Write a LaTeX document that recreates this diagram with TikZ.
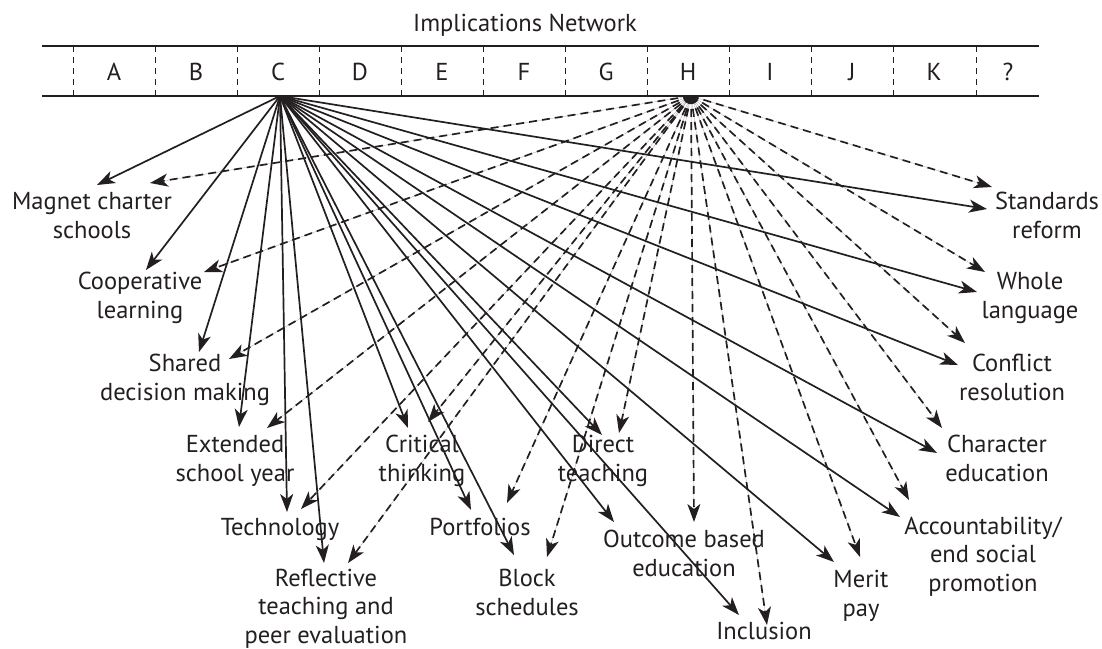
\documentclass[tikz,border=0pt]{standalone}
\usepackage{fontspec}
\setmainfont{PT Sans}
\usetikzlibrary{arrows.meta}
\definecolor{ink}{HTML}{231F20}
\begin{document}
\begin{tikzpicture}[x=1pt,y=-1pt,
  lbl/.style={font=\fontsize{24.5}{28.5}\selectfont, align=center, anchor=base, inner sep=0pt, text=ink},
  cell/.style={font=\fontsize{24.5}{28.5}\selectfont, anchor=base, inner sep=0pt, text=ink},
  barline/.style={line width=1.3pt, draw=ink},
  divider/.style={line width=1pt, draw=ink, dash pattern=on 6pt off 5pt},
  solidarr/.style={line width=1.7pt, draw=ink, fill=ink, -{Stealth[length=18pt,width=13pt,inset=5pt]}},
  dasharr/.style={solidarr, dash pattern=on 8pt off 5pt}]
\useasboundingbox (0,0) rectangle (1102,648);
% title
\node[cell] (title) at (525,31) {Implications Network};
% bar
\draw[barline] (42,46) -- (1039,46);
\draw[barline] (42,96) -- (1039,96);
\foreach \x in {73,155,237,319,401,483,565,647,729,811,893,976}
  \draw[divider] (\x,46) -- (\x,96);
\foreach \l/\x in {A/114,B/196,C/278,D/360,E/442,F/524,G/606,H/688,I/770,J/852,K/934}
  \node[cell] (c\l) at (\x,80) {\l};
\node[cell] (cQ) at (1008,80) {?};
\coordinate (srcC) at (280,96);
\coordinate (srcH) at (691,96);
% labels (anchor = baseline of the last line)
\node[lbl] (mag) at (92,238) {Magnet charter\\schools};
\node[lbl] (coop) at (140,318) {Cooperative\\learning};
\node[lbl] (shared) at (185,400) {Shared\\decision making};
\node[lbl] (ext) at (235,481) {Extended\\school year};
\node[lbl] (tech) at (280,535) {Technology};
\node[lbl] (refl) at (326,643) {Reflective\\teaching and\\peer evaluation};
\node[lbl] (crit) at (422,481) {Critical\\thinking};
\node[lbl] (port) at (480,535) {Portfolios};
\node[lbl] (block) at (527,615) {Block\\schedules};
\node[lbl] (direct) at (603,481) {Direct\\teaching};
\node[lbl] (outc) at (684,576) {Outcome based\\education};
\node[lbl] (incl) at (764,639) {Inclusion};
\node[lbl] (merit) at (861,616) {Merit\\pay};
\node[lbl] (acc) at (983,591) {Accountability/\\end social\\promotion};
\node[lbl] (char) at (997,481) {Character\\education};
\node[lbl] (confl) at (1012,400) {Conflict\\resolution};
\node[lbl] (whole) at (1030,318) {Whole\\language};
\node[lbl] (stand) at (1047,238) {Standards\\reform};
% arrow tips
\coordinate (magS) at (97,185);   \coordinate (magD) at (150,183);
\coordinate (coopS) at (146,270); \coordinate (coopD) at (204,272);
\coordinate (sharedS) at (199,352); \coordinate (sharedD) at (229,359);
\coordinate (extS) at (239,427);  \coordinate (extD) at (267,428);
\coordinate (techS) at (287,512); \coordinate (techD) at (301,509);
\coordinate (reflS) at (324,563); \coordinate (reflD) at (348,563);
\coordinate (critS) at (408,428); \coordinate (critD) at (428,422);
\coordinate (portS) at (471,510); \coordinate (portD) at (507,503);
\coordinate (blockS) at (514,555); \coordinate (blockD) at (547,557);
\coordinate (directS) at (602,435); \coordinate (directD) at (619,433);
\coordinate (outcS) at (614,522); \coordinate (outcD) at (694,522);
\coordinate (inclS) at (739,615); \coordinate (inclD) at (767,625);
\coordinate (meritS) at (834,562); \coordinate (meritD) at (860,557);
\coordinate (accS) at (900,517);  \coordinate (accD) at (909,500);
\coordinate (charS) at (937,453); \coordinate (charD) at (942,428);
\coordinate (conflS) at (958,365); \coordinate (conflD) at (965,343);
\coordinate (wholeS) at (977,292); \coordinate (wholeD) at (985,272);
\coordinate (standS) at (987,209); \coordinate (standD) at (992,187);
\foreach \n in {mag,coop,shared,ext,tech,refl,crit,port,block,direct,outc,incl,merit,acc,char,confl,whole,stand}{
  \draw[solidarr] (srcC) -- (\n S);
  \draw[dasharr] (srcH) -- (\n D);
}
\end{tikzpicture}
\end{document}
